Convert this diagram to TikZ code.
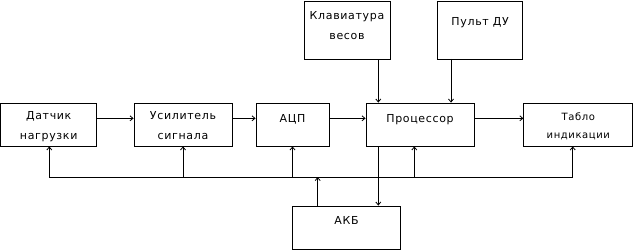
\documentclass[tikz,border=0pt]{standalone}
\usepackage{fontspec}
\setmainfont{DejaVu Sans}[LetterSpace=6]
\usetikzlibrary{arrows.meta}
\begin{document}
\begin{tikzpicture}[x=1pt,y=-1pt,
  blk/.style={draw,line width=0.8pt,inner sep=0pt,fill=white},
  lbl/.style={anchor=base,inner sep=0pt,align=center,font=\fontsize{11}{20}\selectfont},
  conn/.style={line width=0.8pt,-{Straight Barb[length=3pt,width=5pt]}},
  wire/.style={line width=0.8pt}]
\useasboundingbox (0,0) rectangle (634,251);
% boxes
\node[blk,minimum width=96pt,minimum height=43pt] (dat) at (48.7,124.5) {};
\node[blk,minimum width=98pt,minimum height=43pt] (usil) at (183,124.5) {};
\node[blk,minimum width=73pt,minimum height=43pt] (adc) at (292.5,124.5) {};
\node[blk,minimum width=108pt,minimum height=43pt] (proc) at (420,124.5) {};
\node[blk,minimum width=109pt,minimum height=43pt] (tablo) at (578.3,124.5) {};
\node[blk,minimum width=86pt,minimum height=58pt] (klav) at (347,30) {};
\node[blk,minimum width=85pt,minimum height=58pt] (pult) at (480.2,30) {};
\node[blk,minimum width=108pt,minimum height=43pt] (akb) at (346.5,227.5) {};
% labels (base = baseline of last line)
\node[lbl] (tdat) at (48.7,139.5) {Датчик\\нагрузки};
\node[lbl] (tusil) at (183,139.3) {Усилитель\\сигнала};
\node[lbl] (tadc) at (292.5,122) {АЦП};
\node[lbl] (tproc) at (420,122) {Процессор};
\node[lbl,font=\fontsize{10}{18}\selectfont] (ttablo) at (578.3,139) {Табло\\индикации};
\node[lbl] (tklav) at (347,40) {Клавиатура\\весов};
\node[lbl] (tpult) at (480.2,26) {Пульт ДУ};
\node[lbl] (takb) at (346.5,224) {АКБ};
% bus
\coordinate (b1) at (49.3,177);
\coordinate (b2) at (572.7,177);
\draw[wire] (b1) -- (b2);
\draw[conn] (b1) -- (dat.south -| b1);
\draw[conn] (usil.south |- b1) -- (usil.south);
\draw[conn] (adc.south |- b1) -- (adc.south);
\coordinate (bp) at (414.3,177);
\draw[conn] (bp) -- (proc.south -| bp);
\draw[conn] (b2) -- (tablo.south -| b2);
\coordinate (ak) at (317.7,206);
\draw[conn] (ak) -- (ak |- b1);
% main chain
\draw[conn] (dat.east |- 0,118.3) -- (usil.west |- 0,118.3);
\draw[conn] (usil.east |- 0,118.3) -- (adc.west |- 0,118.3);
\draw[conn] (adc.east |- 0,118.3) -- (proc.west |- 0,118.3);
\draw[conn] (proc.east |- 0,118.3) -- (tablo.west |- 0,118.3);
% processor to AKB
\coordinate (pk) at (378.3,146);
\draw[conn] (pk) -- (akb.north -| pk);
% inputs to processor
\draw[conn] (klav.south -| pk) -- (proc.north -| pk);
\coordinate (pu) at (451,59);
\draw[conn] (pu) -- (proc.north -| pu);
\end{tikzpicture}
\end{document}
